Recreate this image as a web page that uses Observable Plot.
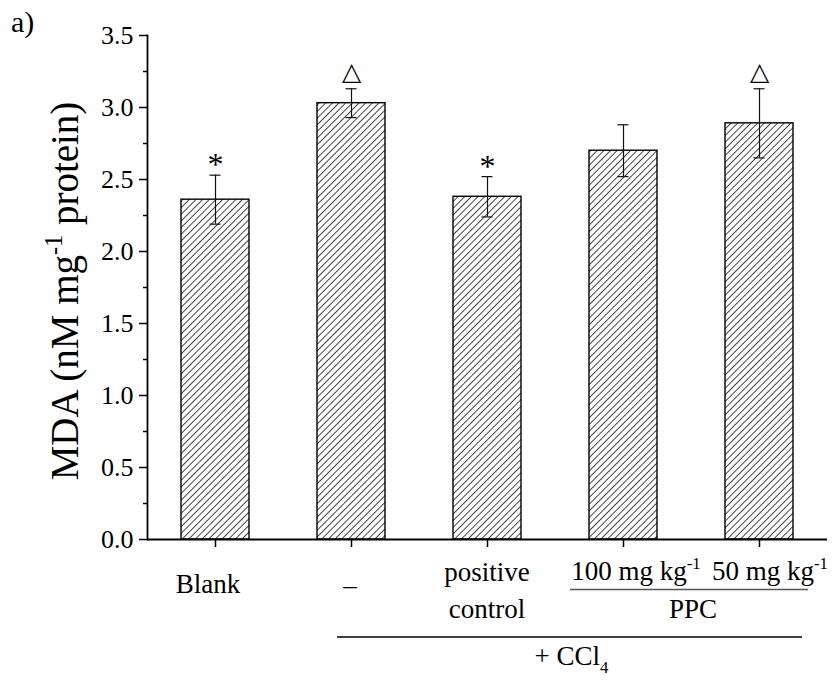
<!DOCTYPE html>
<html><head><meta charset="utf-8">
<script src="https://cdn.jsdelivr.net/npm/d3@7"></script>
<script src="https://cdn.jsdelivr.net/npm/@observablehq/plot@0.6"></script>
<style>
body{margin:0;background:#fff}
#chart{width:838px;height:687px}
</style>
</head><body><div id="chart"></div>
<script>
// ---- data ----
const groups = ["Blank", "–", "positive control", "100 mg kg-1", "50 mg kg-1"];
const means = [2.36, 3.03, 2.38, 2.70, 2.89];
const errors = [0.17, 0.10, 0.14, 0.18, 0.24];
const signif = ["*", "△", "*", "", "△"];
const yTicks = [0, 0.5, 1.0, 1.5, 2.0, 2.5, 3.0, 3.5];
const yMinorTicks = [0.25, 0.75, 1.25, 1.75, 2.25, 2.75, 3.25];
// tick labels: lines separated by "\n", "^" = superscript, "_" = subscript
const tickLabels = ["Blank", "–", "positive\ncontrol", "100 mg kg^-1", "50 mg kg^-1"];
const brackets = [
  {label: "PPC", from: "100 mg kg-1", to: "50 mg kg-1"},
  {label: "+ CCl_4", from: "–", to: "50 mg kg-1"}
];
const yLabel = "MDA (nM mg^-1 protein)";
const panelLabel = "a)";

// ---- layout (pixel offsets / baselines, style only) ----
const labelLayout = [
  {dx: -7, ys: [593]},
  {dx: -1, ys: [594]},
  {dx: 0, ys: [581, 618]},
  {dx: 13, ys: [580]},
  {dx: 11, ys: [580]}
];
const bracketLayout = [
  {y: 589.5, a: -53, b: 49, ty: 618, tdx: 4},
  {y: 637, a: -14, b: 43, ty: 665, tdx: 2}
];

const data = groups.map((g, i) => ({g, m: means[i], lo: means[i] - errors[i], hi: means[i] + errors[i], s: signif[i]}));
const FONT = "'Liberation Serif', 'Times New Roman', serif";

const plot = Plot.plot({
  width: 838, height: 687,
  marginLeft: 147, marginRight: 11, marginTop: 35, marginBottom: 148,
  style: {fontFamily: FONT, fontSize: "26px", color: "#000", background: "#fff", overflow: "visible"},
  x: {domain: groups, paddingInner: 0.5, paddingOuter: 0.25, axis: null, label: null},
  y: {domain: [0, 3.5], axis: null, label: null},
  marks: [
    Plot.barY(data, {x: "g", y: "m", fill: "url(#hatch)", stroke: "#000", strokeWidth: 1.4}),
    Plot.ruleX(data, {x: "g", y1: "lo", y2: "hi", stroke: "#111", strokeWidth: 1.2}),
    Plot.tickY(data, {x: "g", y: "hi", stroke: "#111", strokeWidth: 1.2, insetLeft: 28.5, insetRight: 28.5}),
    Plot.tickY(data, {x: "g", y: "lo", stroke: "#111", strokeWidth: 1.2, insetLeft: 28.5, insetRight: 28.5}),
    Plot.text(data.filter(d => d.s === "*"), {x: "g", y: "hi", text: "s", dy: -10, fontSize: 32, fontFamily: FONT, fill: "#000"}),
    Plot.text(data.filter(d => d.s === "△"), {x: "g", y: "hi", text: "s", dy: -17, fontSize: 25, fontFamily: "DejaVu Sans", fill: "#000"}),
    Plot.axisY({ticks: yTicks, tickSize: 8, tickPadding: 6, tickFormat: d3.format(".1f"), fontSize: 26, fontFamily: FONT, strokeWidth: 1.5, label: null}),
    Plot.axisY({ticks: yMinorTicks, tickSize: 4, tickFormat: () => "", strokeWidth: 1.5, label: null}),
    Plot.axisX({tickSize: 8, tickFormat: () => "", strokeWidth: 1.5, label: null}),
    Plot.ruleY([0], {stroke: "#000", strokeWidth: 1.8}),
    Plot.frame({anchor: "left", stroke: "#000", strokeWidth: 1.8})
  ]
});

const svg = d3.select(plot);
// hatch pattern
const defs = svg.insert("defs", ":first-child");
const pat = defs.append("pattern").attr("id", "hatch").attr("patternUnits", "userSpaceOnUse")
  .attr("width", 4.7).attr("height", 4.7).attr("patternTransform", "rotate(45)");
pat.append("rect").attr("width", 4.7).attr("height", 4.7).attr("fill", "#fff");
pat.append("line").attr("x1", 2.35).attr("y1", -1).attr("x2", 2.35).attr("y2", 6).attr("stroke", "#333").attr("stroke-width", 0.9);

// rich text helper
function rich(sel, str, size) {
  const re = /([\^_])(\S+)/g;
  let last = 0, m;
  const parts = [];
  while ((m = re.exec(str))) {
    if (m.index > last) parts.push({t: str.slice(last, m.index), k: ""});
    parts.push({t: m[2], k: m[1]});
    last = re.lastIndex;
  }
  if (last < str.length) parts.push({t: str.slice(last), k: ""});
  let shift = 0;
  for (const p of parts) {
    const ts = sel.append("tspan").text(p.t);
    let target = 0, fs = size;
    if (p.k === "^") { target = -0.42 * size; fs = 0.62 * size; }
    if (p.k === "_") { target = 0.3 * size; fs = 0.62 * size; }
    ts.attr("dy", target - shift).attr("font-size", fs);
    shift = target;
  }
  return sel;
}

const xs = plot.scale("x");
const cx = g => xs.apply(g) + xs.bandwidth / 2;
const g = svg.append("g").style("font-family", FONT).attr("fill", "#000").attr("text-anchor", "middle");

// x tick labels
const XF = 27;
groups.forEach((grp, i) => {
  const lines = tickLabels[i].split("\n");
  const L = labelLayout[i];
  lines.forEach((ln, j) => rich(g.append("text").attr("x", cx(grp) + L.dx).attr("y", L.ys[j]).attr("font-size", XF), ln, XF));
});

// bracket lines and labels
brackets.forEach((br, i) => {
  const s = bracketLayout[i];
  const x1 = cx(br.from) + s.a, x2 = cx(br.to) + s.b;
  g.append("line").attr("x1", x1).attr("x2", x2).attr("y1", s.y).attr("y2", s.y)
    .attr("stroke", i === 0 ? "#555" : "#000").attr("stroke-width", 1.6);
  rich(g.append("text").attr("x", (x1 + x2) / 2 + s.tdx).attr("y", s.ty).attr("font-size", XF), br.label, XF);
});

// y axis label
rich(g.append("text").attr("transform", "translate(78,291) rotate(-90)").attr("font-size", 39), yLabel, 39);
// panel label
g.append("text").attr("x", 11).attr("y", 32).attr("text-anchor", "start").attr("font-size", 30).text(panelLabel);

document.getElementById("chart").appendChild(plot);
</script>
</body></html>
